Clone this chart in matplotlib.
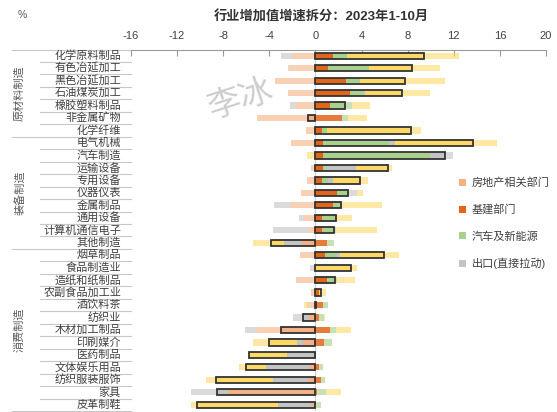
import matplotlib
matplotlib.use("Agg")
import matplotlib.pyplot as plt
import numpy as np
from matplotlib.patches import Patch
from matplotlib.transforms import blended_transform_factory

plt.rcParams['font.family'] = ['Liberation Sans', 'Noto Sans CJK SC']
plt.rcParams['axes.unicode_minus'] = False

categories = ['化学原料制品', '有色冶延加工', '黑色冶延加工', '石油煤炭加工', '橡胶塑料制品',
              '非金属矿物', '化学纤维',
              '电气机械', '汽车制造', '运输设备', '专用设备', '仪器仪表', '金属制品',
              '通用设备', '计算机通信电子', '其他制造',
              '烟草制品', '食品制造业', '造纸和纸制品', '农副食品加工业', '酒饮料茶', '纺织业',
              '木材加工制品', '印刷媒介', '医药制品', '文体娱乐用品', '纺织服装服饰', '家具', '皮革制鞋']

groups = [('原材料制造', 0, 6), ('装备制造', 7, 15), ('消费制造', 16, 28)]

# contributions (percentage points)
real_estate = [-2.03, -2.26, -3.48, -2.41, -1.68, -5.07, -0.81,
               -2.12, 0.0, -0.38, -0.72, -1.25, -2.12, -1.01, -0.67, -1.16,
               -1.30, 0.0, -1.68, -0.38, -0.72, -0.58, -5.07, -1.10, 0.0, -0.58, -0.67, -7.62, -0.38]
infra = [1.51, 1.07, 2.67, 3.04, 1.30, 2.29, 0.55,
         0.64, 0.64, 0.64, 0.55, 1.88, 1.51, 0.58, 0.58, 0.99,
         0.87, 0.0, 0.99, 0.30, 0.64, 0.35, 1.22, 0.78, 0.05, 0.29, 0.49, 0.15, 0.0]
auto = [1.22, 3.57, 1.16, 1.07, 1.86, 0.52, 0.43,
        5.74, 9.28, 0.15, 0.52, 1.01, 0.78, 1.30, 1.16, 0.61,
        0.99, 0.0, 0.90, 0.0, 0.45, 0.35, 0.58, 0.67, 0.0, 0.35, 0.38, 0.78, 0.49]
export = [-0.96, -0.15, 0.0, 0.23, -0.52, 0.0, 0.0,
          0.55, 2.03, 2.75, 0.43, 0.70, -1.45, -0.43, -3.04, -1.59,
          0.29, -0.50, 0.0, 0.0, 0.0, -1.33, -1.01, -0.49, -2.49, -3.71, -2.99, -3.19, -2.90]
other = [9.71, 6.14, 7.45, 5.57, 1.59, 1.65, 8.15,
         8.84, -0.72, 3.13, 3.05, 0.52, 3.51, 1.30, 3.59, -2.70,
         5.09, 3.60, 1.51, 0.58, -0.30, 0.17, 1.30, -3.86, -3.30, -2.38, -5.84, 1.30, -7.48]

series_names = ['房地产相关部门', '基建部门', '汽车及新能源', '出口(直接拉动)', '其他']
series_data = [real_estate, infra, auto, export, other]
series_colors = ['#F4B183', '#E2651A', '#A9D18E', '#C4C4C4', '#FFD966']
pale_alpha = [0.6, 0.85, 0.65, 0.6, 0.6]

vals = np.array(series_data)
total = vals.sum(axis=0)
y = np.arange(len(categories))
h = 0.5

fig = plt.figure(figsize=(5.57, 4.12), dpi=100)
ax = fig.add_axes([131 / 557, 1 / 412, 415 / 557, 361.5 / 412])

# net total box (drawn first so its patches can clip the solid bars)
box = ax.barh(y, np.abs(total), left=np.minimum(total, 0), height=h,
              facecolor='none', edgecolor='#333333', linewidth=1.3, zorder=5)

pos_left = np.zeros(len(y))
neg_left = np.zeros(len(y))
for vals_s, col, a in zip(vals, series_colors, pale_alpha):
    left = np.where(vals_s >= 0, pos_left, neg_left)
    ax.barh(y, vals_s, left=left, height=h, color=col, alpha=a, linewidth=0, zorder=2)
    solid = ax.barh(y, vals_s, left=left, height=h, color=col, linewidth=0, zorder=3)
    for p, b in zip(solid.patches, box.patches):
        p.set_clip_path(b)
    pos_left = pos_left + np.where(vals_s > 0, vals_s, 0)
    neg_left = neg_left + np.where(vals_s < 0, vals_s, 0)

ax.axvline(0, color='#D0D0D0', lw=0.8, zorder=1)

ax.set_xlim(-16, 20)
ax.set_ylim(len(y) - 0.5, -0.5)
ax.xaxis.tick_top()
ax.set_xticks(np.arange(-16, 21, 4))
ax.tick_params(axis='x', direction='in', length=4, color='#999999', labelsize=8,
               labelcolor='#404040', pad=6)
ax.set_yticks([])
for s in ['left', 'right', 'bottom']:
    ax.spines[s].set_visible(False)
ax.spines['top'].set_color('#999999')

# category labels and separators
tr = blended_transform_factory(ax.transAxes, ax.transData)
for i, c in enumerate(categories):
    ax.text(-0.024, i, c, transform=tr, ha='right', va='center', fontsize=8, color='#404040')
group_edges = [-0.5] + [g[2] + 0.5 for g in groups]
for b in np.arange(-0.5, len(y), 1.0):
    x0 = -0.2867 if b in group_edges else -0.2193
    ax.plot([x0, 0], [b, b], transform=tr, color='#C8C8C8', lw=0.8, clip_on=False)
for name, a0, a1 in groups:
    ax.text(-0.268, (a0 + a1) / 2, name, transform=tr, rotation=90, ha='center', va='center',
            fontsize=8, color='#595959')

fig.text(321 / 557, 1 - 17 / 412, '行业增加值增速拆分：2023年1-10月', ha='center', va='center',
         fontsize=9.5, fontweight='bold', color='#333333')
fig.text(18 / 557, 1 - 15 / 412, '%', ha='left', va='center', fontsize=7.5, color='#595959')

# watermark
fig.text(241 / 557, 1 - 100 / 412, '李冰', ha='center', va='center', fontsize=24,
         color='#C8C8C8', rotation=18, alpha=0.9)

handles = [Patch(facecolor=c, edgecolor='none') for c in series_colors[:4]]
leg = fig.legend(handles, series_names[:4], loc='upper left',
                 bbox_to_anchor=(455 / 557, 1 - 173 / 412), frameon=False,
                 fontsize=8, handlelength=0.6, handleheight=0.6, handletextpad=0.5,
                 labelspacing=1.45, borderaxespad=0)
for t in leg.get_texts():
    t.set_color('#404040')

fig.savefig('out.png', dpi=100)
